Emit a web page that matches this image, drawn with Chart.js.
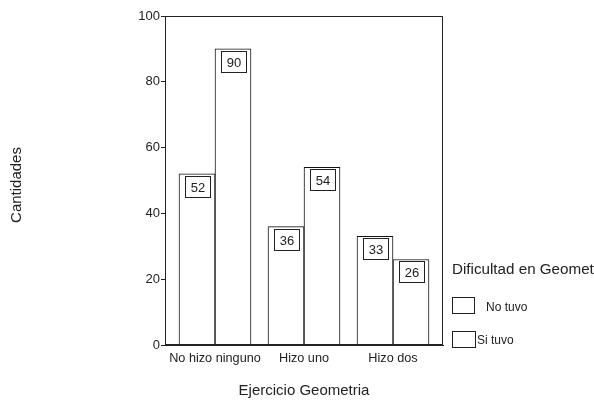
<!DOCTYPE html>
<html>
<head>
<meta charset="utf-8">
<script src="https://cdn.jsdelivr.net/npm/chart.js@4/dist/chart.umd.min.js"></script>
<style>
  html, body { margin: 0; padding: 0; background: #fff; }
  #wrap { width: 594px; height: 400px; position: relative; }
</style>
</head>
<body>
<div id="wrap"><canvas id="c"></canvas></div>
<script>
// Categories and counts
const categories = ['No hizo ninguno', 'Hizo uno', 'Hizo dos'];
const noTuvo = [52, 36, 33];
const siTuvo = [90, 54, 26];
const seriesNames = ['No tuvo', 'Si tuvo'];
const yTicks = [0, 20, 40, 60, 80, 100];
const xTitle = 'Ejercicio Geometria';
const yTitle = 'Cantidades';
const legendTitle = 'Dificultad en Geometria';

const FONT = '"Liberation Sans", Arial, sans-serif';
const INK = '#222';

const toPoints = arr => arr.map((v, i) => ({ x: i, y: v }));

// Frame, value boxes, axis titles and legend
const decorations = {
  id: 'decorations',
  afterDraw(chart) {
    const ctx = chart.ctx;
    const a = chart.chartArea;
    ctx.save();
    ctx.strokeStyle = INK;
    ctx.lineWidth = 1;
    ctx.strokeRect(Math.round(a.left) + 0.5, Math.round(a.top) + 0.5,
                   Math.round(a.right - a.left) - 1, Math.round(a.bottom - a.top) - 1);

    // value boxes just under each bar top
    ctx.font = '13px ' + FONT;
    ctx.textAlign = 'center';
    ctx.textBaseline = 'middle';
    chart.data.datasets.forEach((ds, di) => {
      const meta = chart.getDatasetMeta(di);
      meta.data.forEach((bar, i) => {
        const w = 25, h = 21;
        const bx = Math.round(bar.x - w / 2) + 0.5;
        const by = Math.round(bar.y + 2) + 0.5;
        ctx.fillStyle = '#fff';
        ctx.fillRect(bx, by, w, h);
        ctx.strokeStyle = INK;
        ctx.strokeRect(bx, by, w, h);
        ctx.fillStyle = INK;
        ctx.fillText(String(ds.data[i].y), bx + w / 2, by + h / 2 + 1);
      });
    });

    // axis titles
    ctx.font = '15px ' + FONT;
    ctx.fillStyle = INK;
    ctx.textAlign = 'center';
    ctx.textBaseline = 'middle';
    ctx.fillText(xTitle, (a.left + a.right) / 2, 391);
    ctx.save();
    ctx.translate(17, 185);
    ctx.rotate(-Math.PI / 2);
    ctx.fillText(yTitle, 0, 0);
    ctx.restore();

    // legend (title runs off the right edge of the canvas)
    ctx.textAlign = 'left';
    ctx.font = '15.2px ' + FONT;
    ctx.fillText(legendTitle, 452, 270);

    ctx.font = '12px ' + FONT;
    const items = [
      { box: [452, 297, 22, 16], tx: 486, ty: 308 },
      { box: [452, 331, 23, 16], tx: 477, ty: 341 }
    ];
    chart.data.datasets.forEach((ds, di) => {
      const it = items[di];
      ctx.fillStyle = '#fff';
      ctx.fillRect(it.box[0] + 0.5, it.box[1] + 0.5, it.box[2], it.box[3]);
      ctx.strokeStyle = INK;
      ctx.strokeRect(it.box[0] + 0.5, it.box[1] + 0.5, it.box[2], it.box[3]);
      ctx.fillStyle = INK;
      ctx.fillText(ds.label, it.tx, it.ty);
    });
    ctx.restore();
  }
};

const barStyle = {
  backgroundColor: '#ffffff',
  borderColor: '#111',
  borderWidth: 1,
  barThickness: 36
};

new Chart(document.getElementById('c'), {
  type: 'bar',
  data: {
    datasets: [
      Object.assign({ label: seriesNames[0], data: toPoints(noTuvo) }, barStyle),
      Object.assign({ label: seriesNames[1], data: toPoints(siTuvo) }, barStyle)
    ]
  },
  options: {
    responsive: true,
    maintainAspectRatio: false,
    devicePixelRatio: 1,
    animation: false,
    events: [],
    layout: { padding: { left: 0, right: 151, top: 16, bottom: 0 } },
    plugins: {
      legend: { display: false },
      tooltip: { enabled: false },
      colors: { enabled: false }
    },
    scales: {
      x: {
        type: 'linear',
        min: -50 / 89,
        max: 2 + 50 / 89,
        offset: false,
        afterBuildTicks: s => { s.ticks = categories.map((_, i) => ({ value: i })); },
        afterFit: s => { s.height = 55; },
        grid: { display: false, drawTicks: false },
        border: { display: true, color: INK },
        ticks: {
          autoSkip: false,
          maxRotation: 0,
          padding: 6,
          color: INK,
          font: { family: FONT, size: 12.7 },
          callback: v => categories[v]
        }
      },
      y: {
        min: 0,
        max: 100,
        afterBuildTicks: s => { s.ticks = yTicks.map(v => ({ value: v })); },
        afterFit: s => { s.width = 165; },
        grid: { drawOnChartArea: false, drawTicks: true, tickLength: 4, color: INK },
        border: { display: true, color: INK },
        ticks: {
          padding: 1,
          color: INK,
          font: { family: FONT, size: 13 }
        }
      }
    }
  },
  plugins: [decorations]
});
</script>
</body>
</html>
